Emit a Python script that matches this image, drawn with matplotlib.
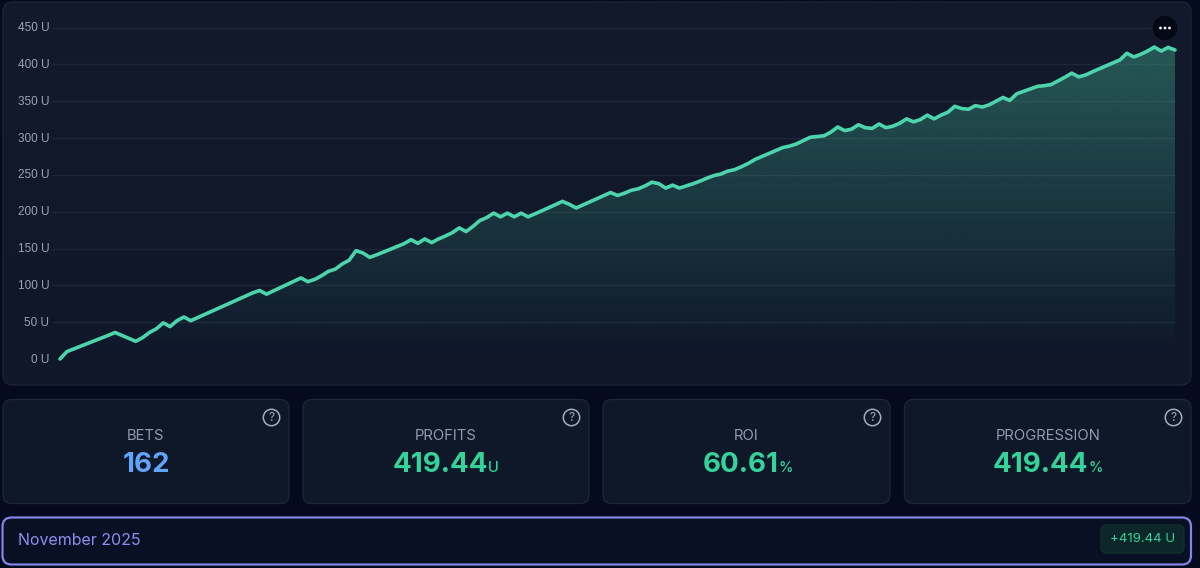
import numpy as np
import matplotlib
matplotlib.use("Agg")
import matplotlib.pyplot as plt
from matplotlib.colors import LinearSegmentedColormap
from matplotlib.patches import Circle, FancyBboxPatch, Polygon
from matplotlib.transforms import ScaledTranslation

plt.rcParams['font.family'] = ['Inter', 'DejaVu Sans']

# cumulative units after each bet
profit = [
    0, 10, 13.7, 17.4, 21, 24.7, 28.4, 32, 36, 32,
    28, 24, 29, 36, 41, 49, 44, 52, 57, 52,
    56.2, 60.4, 64.6, 68.8, 73, 77.2, 81.4, 85.6, 89.8, 93,
    88, 92.4, 96.8, 101.2, 105.6, 110, 105, 108, 113, 119,
    122, 129, 134, 147, 144, 138, 141.4, 145.2, 149, 152.8,
    156.6, 162, 157, 163, 158, 163, 167, 171.5, 178, 173,
    180, 188, 192, 198, 193, 198, 193, 198, 193, 197,
    201.2, 205.4, 209.6, 214, 210, 205, 209.2, 213.4, 217.6, 221.8,
    226, 222, 225, 229, 231, 235, 240, 238, 232, 236,
    232, 235, 238, 241.5, 245.5, 249, 251, 255, 257, 261,
    265.5, 271, 275, 279, 283, 287, 289, 292, 296.5, 301,
    302, 303, 308, 315, 310, 312, 318, 314, 313, 319,
    314, 316, 320, 326, 322, 325, 331, 326, 331, 335,
    343, 340, 339, 344, 342, 345, 350, 355, 351, 360,
    363.3, 366.6, 370, 371, 372.5, 377.5, 382.5, 388, 383, 385.5,
    389.9, 394, 398, 402, 406, 415, 410, 413.5, 418, 423.5,
    418, 423, 419.44,
]
y_ticks = [0, 50, 100, 150, 200, 250, 300, 350, 400, 450]
y_labels = ['0 U', '50 U', '100 U', '150 U', '200 U', '250 U', '300 U', '350 U', '400 U', '450 U']

card_titles = ['BETS', 'PROFITS', 'ROI', 'PROGRESSION']
card_values = ['162', '419.44', '60.61', '419.44']
card_units = ['', 'U', '%', '%']
card_colors = ['#60a5fa', '#34d399', '#34d399', '#34d399']
month_label = 'November 2025'
month_total = '+419.44 U'

W, H = 1200, 568
PAGE = '#050a1e'
LINE = '#4dd4ac'


def pxToFig(x0, y0, x1, y1):
    # pixel box (top-left origin) to figure fractions
    return [x0 / W, 1 - y1 / H, (x1 - x0) / W, (y1 - y0) / H]


def roundBox(ax, x0, y0, x1, y1, radius, face, edge, lw=1.0, zorder=1):
    box = FancyBboxPatch((x0 + radius, y0 + radius), x1 - x0 - 2 * radius, y1 - y0 - 2 * radius,
                         boxstyle=f"round,pad={radius},rounding_size={radius}",
                         fc=face, ec=edge, lw=lw, zorder=zorder)
    ax.add_patch(box)
    return box


def helpIcon(ax, x, y):
    ax.add_patch(Circle((x, y), 8.2, fc='none', ec='#a3adbb', lw=1.1, zorder=3))
    ax.text(x, y + 0.3, '?', color='#a3adbb', fontsize=8.6, ha='center', va='center', zorder=3)


fig = plt.figure(figsize=(W / 100, H / 100), dpi=100, facecolor=PAGE)

# page layer in pixel coordinates
bg = fig.add_axes([0, 0, 1, 1])
bg.set_xlim(0, W)
bg.set_ylim(H, 0)
bg.axis('off')

panel = roundBox(bg, 3, 2, 1191, 385, 10, 'none', '#1c2434', zorder=2)
panel_cmap = LinearSegmentedColormap.from_list('panel', ['#121a2b', '#0f1729'])
panel_img = bg.imshow(np.linspace(0, 1, 256).reshape(-1, 1), cmap=panel_cmap, aspect='auto',
                      extent=[3, 1191, 385, 2], zorder=1)
panel_img.set_clip_path(panel)
bg.set_xlim(0, W)
bg.set_ylim(H, 0)

# stat cards
card_boxes = [(3, 289), (303, 589), (603, 890), (904.5, 1191)]
for i, (x0, x1) in enumerate(card_boxes):
    roundBox(bg, x0, 399.5, x1, 503.5, 9, '#0f1829', '#1c2636')
    cx = (x0 + x1) / 2
    bg.text(cx, 436, card_titles[i], color='#8e9bb0', fontsize=10.7, ha='center', va='center', zorder=3)
    helpIcon(bg, x1 - 17.5, 417.5)

value_right = [170, 488.5, 779, 1088.5]
for i, right in enumerate(value_right):
    bg.text(right, 472.5, card_values[i], color=card_colors[i], fontsize=20, fontweight='bold',
            ha='right', va='baseline', zorder=3)
    if card_units[i]:
        bg.text(right - 0.5, 472.5, card_units[i], color=card_colors[i], fontsize=10.5,
                fontweight='medium', ha='left', va='baseline', zorder=3)

# month bar
roundBox(bg, 2.5, 517.5, 1191, 564.5, 9, '#0a1024', '#8484e6', lw=1.6)
bg.text(18.5, 540.5, month_label, color='#8b8ff0', fontsize=11.5, ha='left', va='center', zorder=3)
roundBox(bg, 1101, 525, 1184, 553, 6, '#0c2629', '#11302f')
bg.text(1142.5, 539.5, month_total, color='#34d399', fontsize=9.5, ha='center', va='center', zorder=3)

# chart layer, gridlines run from px 52 to px 1175
ax = fig.add_axes(pxToFig(52, 27.5, 1175, 359))
ax.patch.set_alpha(0)
x = np.arange(len(profit))
ax.set_xlim(-8 / 6.883, len(profit) - 1)
ax.set_ylim(0, 450)
ax.set_yticks(y_ticks)
ax.set_yticklabels(y_labels, color='#9aa3b2', fontsize=8.5, family=['Liberation Sans'], va='center_baseline')
ax.set_xticks([])
ax.tick_params(axis='y', length=0, pad=2)
ax.grid(axis='y', color='#1e2739', lw=1)
ax.set_axisbelow(True)
for spine in ax.spines.values():
    spine.set_visible(False)
# labels sit about a pixel above their gridline
nudge = ScaledTranslation(0, 0.9 / 100, fig.dpi_scale_trans)
for label in ax.get_yticklabels():
    label.set_transform(label.get_transform() + nudge)

# area under the line fades out towards zero
fade = np.zeros((256, 1, 4))
fade[..., :3] = matplotlib.colors.to_rgb('#4dd2aa')
fade[..., 3] = np.linspace(0.36, 0.0, 256).reshape(-1, 1)
area_img = ax.imshow(fade, aspect='auto', extent=[0, len(profit) - 1, 0, 450], zorder=1)
area = Polygon(np.column_stack([np.r_[x, x[-1], 0], np.r_[profit, 0, 0]]), fc='none', ec='none',
               transform=ax.transData)
ax.add_patch(area)
area_img.set_clip_path(area)
ax.set_xlim(-8 / 6.883, len(profit) - 1)
ax.set_ylim(0, 450)

ax.plot(x, profit, color=LINE, lw=2.6, solid_joinstyle='round', solid_capstyle='round',
        clip_on=False, zorder=3)

# menu button, top right of the chart
bg_top = fig.add_axes([0, 0, 1, 1])
bg_top.set_xlim(0, W)
bg_top.set_ylim(H, 0)
bg_top.axis('off')
bg_top.add_patch(Circle((1165, 28), 13, fc='#050916', ec='#161d2e', lw=0.8))
for dx in (-4.5, 0, 4.5):
    bg_top.add_patch(Circle((1165 + dx, 28), 1.4, fc='#f1f3f7', ec='none'))

fig.savefig('out.png', dpi=100, facecolor=PAGE)
